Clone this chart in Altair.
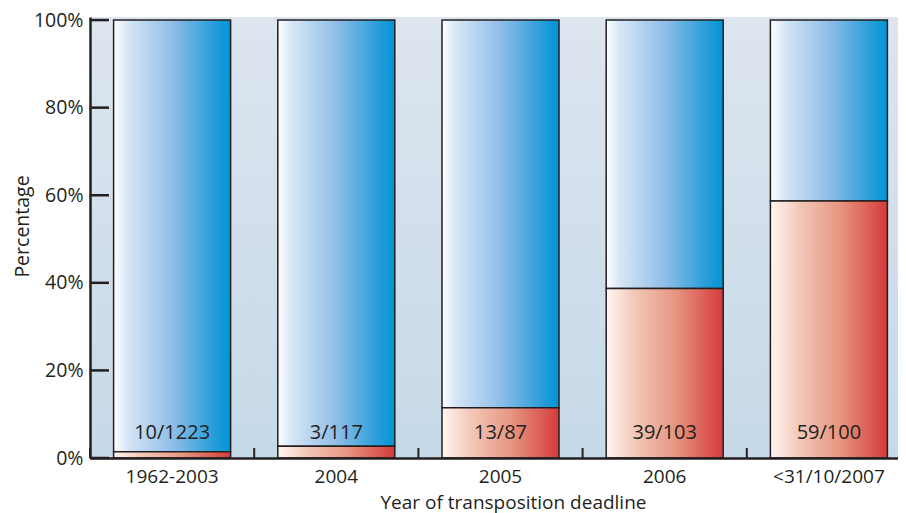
import altair as alt
import pandas as pd

categories = ["1962-2003", "2004", "2005", "2006", "<31/10/2007"]
late_pct = [1.4, 2.7, 11.5, 38.7, 58.7]
counts = ["10/1223", "3/117", "13/87", "39/103", "59/100"]
y_ticks = [0, 20, 40, 60, 80, 100]

df = pd.DataFrame({"cat": categories, "late": late_pct, "label": counts})
ticks_df = pd.DataFrame({"v": y_ticks})
panel_df = pd.DataFrame({"panel": ["background"]})

FONT = "Open Sans"
INK = "#231f20"
W, H = 808, 441
BAR_W = 117

blue_grad = alt.LinearGradient(
    gradient="linear", x1=0, x2=1, y1=0, y2=0,
    stops=[
        alt.GradientStop(color="#ffffff", offset=0),
        alt.GradientStop(color="#d6e6f6", offset=0.12),
        alt.GradientStop(color="#8fbee8", offset=0.5),
        alt.GradientStop(color="#2a9dda", offset=0.85),
        alt.GradientStop(color="#0095d5", offset=1),
    ],
)
red_grad = alt.LinearGradient(
    gradient="linear", x1=0, x2=1, y1=0, y2=0,
    stops=[
        alt.GradientStop(color="#fff6f2", offset=0),
        alt.GradientStop(color="#f3c7b8", offset=0.25),
        alt.GradientStop(color="#e6947f", offset=0.6),
        alt.GradientStop(color="#d63a3a", offset=1),
    ],
)
bg_grad = alt.LinearGradient(
    gradient="linear", x1=0, x2=0, y1=0, y2=1,
    stops=[
        alt.GradientStop(color="#dde5ee", offset=0),
        alt.GradientStop(color="#c6d9e8", offset=1),
    ],
)

x_enc = alt.X(
    "cat:N",
    sort=categories,
    scale=alt.Scale(range=[0, 821], paddingInner=0, paddingOuter=0),
    axis=alt.Axis(
        title="Year of transposition deadline",
        labelAngle=0,
        ticks=False,
        grid=False,
        domainColor=INK,
        domainWidth=2.5,
        labelFont=FONT,
        labelFontSize=19,
        labelColor=INK,
        labelPadding=9,
        titleFont=FONT,
        titleFontSize=19,
        titleFontWeight="normal",
        titleColor=INK,
        titleX=423,
        titleY=50,
        titleBaseline="alphabetic",
        zindex=1,
    ),
)
y_scale = alt.Scale(domain=[0, 100.7], nice=False, zero=True)
y_enc = alt.Y(
    "late:Q",
    scale=y_scale,
    axis=alt.Axis(
        title="Percentage",
        values=y_ticks,
        labelExpr="datum.value + '%'",
        ticks=False,
        grid=False,
        domainColor=INK,
        domainWidth=2.5,
        labelFont=FONT,
        labelFontSize=19.5,
        labelColor=INK,
        labelPadding=7,
        titleFont=FONT,
        titleFontSize=19.5,
        titleFontWeight="normal",
        titleColor=INK,
        titleAngle=270,
        titleX=-68,
        titleY=209,
        titleAlign="center",
        titleBaseline="middle",
        zindex=1,
    ),
)

background = alt.Chart(panel_df).mark_rect(fill=bg_grad).encode(
    x=alt.value(0), x2=alt.value(W), y=alt.value(0), y2=alt.value(H)
)

base = alt.Chart(df)

blue = base.mark_bar(fill=blue_grad, stroke=INK, strokeWidth=1.5, width=BAR_W).encode(
    x=x_enc, y=y_enc, y2=alt.datum(100)
)
red = base.mark_bar(fill=red_grad, stroke=INK, strokeWidth=1.5, width=BAR_W).encode(
    x=alt.X("cat:N", sort=categories), y=alt.Y("late:Q"), y2=alt.datum(0)
)
text = base.mark_text(font=FONT, fontSize=20, color=INK, baseline="middle").encode(
    x=alt.X("cat:N", sort=categories), y=alt.value(416), text="label:N"
)
ytick = alt.Chart(ticks_df).mark_rule(color=INK, strokeWidth=2.5).encode(
    y=alt.Y("v:Q"), x=alt.value(0), x2=alt.value(19)
)
xtick = base.mark_rule(color=INK, strokeWidth=2).encode(
    x=alt.X("cat:N", sort=categories, bandPosition=0),
    y=alt.value(H),
    y2=alt.value(H - 10),
)

chart = (
    alt.layer(background, blue, red, text, ytick, xtick)
    .properties(
        width=W,
        height=H,
        autosize=alt.AutoSizeParams(type="none"),
        padding={"left": 82, "top": 9, "right": 0, "bottom": 55},
        background="white",
    )
    .configure_view(stroke=None)
)

chart.save("out.html", embed_options={"renderer": "svg", "actions": False})
